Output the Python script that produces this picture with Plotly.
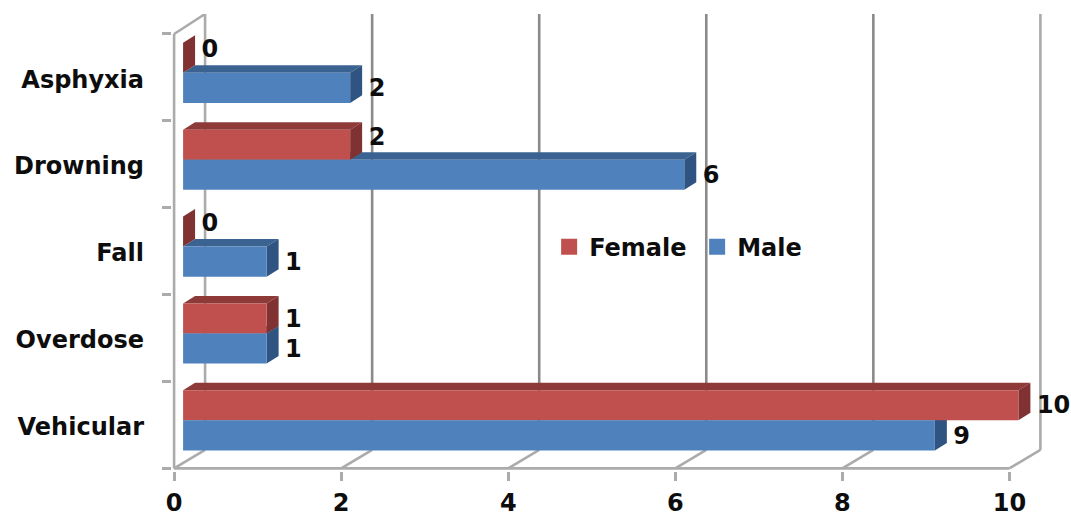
import plotly.graph_objects as go

categories = ["Vehicular", "Overdose", "Fall", "Drowning", "Asphyxia"]
female = [10, 1, 0, 2, 0]
male = [9, 1, 1, 6, 2]
x_ticks = [0, 2, 4, 6, 8, 10]
# vertical nudge of the data labels, in category bands
female_label_nudge = [-0.015, -0.025, 0.075, 0.065, 0.08]
male_label_nudge = -0.03

W, H = 1071, 516
PX_X, PX_Y = 83.55, 86.8      # pixels per value unit / per category band
X_RANGE = [-0.025, 10.45]
Y_RANGE = [-0.03, 5.23]
ml = 174 + X_RANGE[0] * PX_X
mt = 14
mr = W - ml - (X_RANGE[1] - X_RANGE[0]) * PX_X
mb = H - mt - (Y_RANGE[1] - Y_RANGE[0]) * PX_Y

BASE = 9 / PX_X               # bars stand off from the front plane
DX, DY = 12 / PX_X, 7.5 / PX_Y  # bar depth
WX, WY = 31 / PX_X, 18.5 / PX_Y # wall depth
TOP = 5.0
WALL_TOP = 5.23
M_Y0, F_Y0, BAR_H = 0.207, 0.553, 0.346

C_F, C_F_TOP, C_F_SIDE = "#C0504D", "#8E3A38", "#7F3231"
C_M, C_M_TOP, C_M_SIDE = "#4F81BD", "#3B6391", "#2F5481"
WALL, GRID = "#ABABAB", "#8A8A8A"
FONT = "DejaVu Sans"
FS = 24
TXT = "#0d0d0d"


def path(pts):
    return "M" + "L".join(f"{x:.4f},{y:.4f}" for x, y in pts) + "Z"


def line(x0, y0, x1, y1, color, width=2.6):
    return dict(type="line", layer="below", xref="x", yref="y", x0=x0, y0=y0, x1=x1, y1=y1,
                line=dict(color=color, width=width))


def faces(v, y0, top, side):
    x1 = BASE + v
    y1 = y0 + BAR_H
    t = [(BASE, y1), (x1, y1), (x1 + DX, y1 + DY), (BASE + DX, y1 + DY)]
    s = [(x1, y0), (x1 + DX, y0 + DY), (x1 + DX, y1 + DY), (x1, y1)]
    out = []
    for pts, col in ((t, top), (s, side)):
        out.append(dict(type="path", layer="below", xref="x", yref="y", path=path(pts),
                        fillcolor=col, line=dict(width=0)))
    return out


shapes = []
# back wall grid and floor lines
for t in x_ticks:
    if t > 0:
        shapes.append(line(t + WX, WY, t + WX, WALL_TOP, GRID if t < 10 else WALL))
    shapes.append(line(t, 0, t + WX, WY, WALL))
shapes.append(line(WX, WY, WX, WALL_TOP, WALL))
shapes.append(line(0, 0, 0, TOP, WALL))
shapes.append(line(0, TOP, WX, WALL_TOP, WALL))
shapes.append(line(0, 0, x_ticks[-1], 0, WALL))

# depth faces: males behind, females in front of them
for i in range(len(categories) - 1, -1, -1):
    shapes += faces(male[i], i + M_Y0, C_M_TOP, C_M_SIDE)
    shapes += faces(female[i], i + F_Y0, C_F_TOP, C_F_SIDE)

fig = go.Figure()
fig.add_bar(name="Female", orientation="h", y=[i + F_Y0 + BAR_H / 2 for i in range(5)], x=female,
            base=BASE, width=BAR_H, marker=dict(color=C_F, line=dict(width=0)), showlegend=False)
fig.add_bar(name="Male", orientation="h", y=[i + M_Y0 + BAR_H / 2 for i in range(5)], x=male,
            base=BASE, width=BAR_H, marker=dict(color=C_M, line=dict(width=0)), showlegend=False)

LABEL_GAP = 18.5 / PX_X
TF = dict(family=FONT, size=FS, color=TXT, weight="bold")
fig.add_scatter(x=[BASE + v + LABEL_GAP for v in female],
                y=[i + F_Y0 + BAR_H / 2 + female_label_nudge[i] for i in range(5)],
                mode="text", text=[str(v) for v in female], textposition="middle right",
                textfont=TF, showlegend=False, hoverinfo="skip", cliponaxis=False)
fig.add_scatter(x=[BASE + v + LABEL_GAP for v in male],
                y=[i + M_Y0 + BAR_H / 2 + male_label_nudge for i in range(5)],
                mode="text", text=[str(v) for v in male], textposition="middle right",
                textfont=TF, showlegend=False, hoverinfo="skip", cliponaxis=False)
# legend swatches
for name, col in (("Female", C_F), ("Male", C_M)):
    fig.add_scatter(x=[None], y=[None], mode="markers", name=name,
                    marker=dict(symbol="square", size=16, color=col, line=dict(width=0)))

fig.update_layout(
    width=W, height=H, autosize=False,
    margin=dict(l=ml, r=mr, t=mt, b=mb, pad=0, autoexpand=False),
    paper_bgcolor="white", plot_bgcolor="white",
    barmode="overlay", shapes=shapes,
    font=dict(family=FONT, size=FS, color=TXT, weight="bold"),
    legend=dict(orientation="h", x=0.431, y=0.49, xanchor="left", yanchor="middle",
                traceorder="normal", bgcolor="rgba(0,0,0,0)", tracegroupgap=0,
                entrywidth=103, entrywidthmode="pixels", font=TF),
    xaxis=dict(range=X_RANGE, tickmode="array", tickvals=x_ticks, ticktext=[str(t) for t in x_ticks],
               showgrid=False, zeroline=False, showline=False, automargin=False,
               ticks="outside", ticklen=9, tickwidth=3, tickcolor=WALL, ticklabelstandoff=1),
    yaxis=dict(range=Y_RANGE, tickmode="array", tickvals=[i + 0.48 for i in range(5)],
               ticktext=categories, showgrid=False, zeroline=False, showline=False, automargin=False,
               ticks="", ticklabelstandoff=27,
               minor=dict(tickmode="array", tickvals=list(range(6)), ticks="outside",
                          ticklen=9, tickwidth=3, tickcolor=WALL, showgrid=False)),
)

fig.write_html("out.html", config={"displayModeBar": False},
               post_script="document.body.style.margin='0';")
